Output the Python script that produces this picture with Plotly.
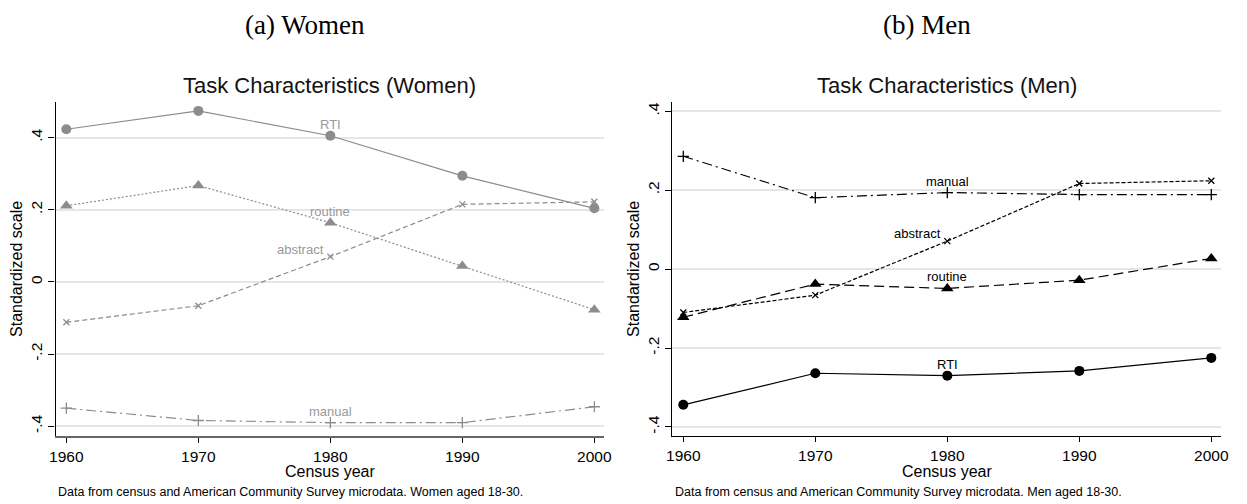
import plotly.graph_objects as go

# Reference image size; the page body has an 8px margin, so the figure is drawn
# 8px smaller and all reference pixel positions are shifted by -8.
REF_W, REF_H = 1247, 504
OFF = 8
W, H = REF_W - OFF, REF_H - OFF

years = [1960, 1970, 1980, 1990, 2000]

# Women
w_rti = [0.423, 0.474, 0.405, 0.294, 0.204]
w_routine = [0.211, 0.267, 0.164, 0.044, -0.077]
w_abstract = [-0.112, -0.066, 0.070, 0.215, 0.222]
w_manual = [-0.350, -0.384, -0.390, -0.390, -0.346]

# Men
m_rti = [-0.344, -0.264, -0.270, -0.258, -0.225]
m_routine = [-0.122, -0.038, -0.049, -0.028, 0.027]
m_abstract = [-0.110, -0.066, 0.071, 0.217, 0.224]
m_manual = [0.286, 0.181, 0.194, 0.189, 0.189]

ytick_vals = [-0.4, -0.2, 0, 0.2, 0.4]
ytick_text = ["-.4", "-.2", "0", ".2", ".4"]
xtick_vals = [1960, 1970, 1980, 1990, 2000]

FONT = "Liberation Sans, Arial, sans-serif"
SERIF = "Liberation Serif, Times New Roman, serif"

def px(x):
    return (x - OFF) / W

def py(y):
    return 1 - (y - OFF) / H

GRAY = "#8c8c8c"
GRAY_TXT = "#9a9a9a"
BLACK = "#000000"

fig = go.Figure()

def add_series(xa, ya, vals, color, dash, symbol, size, width=1.2, mline=None):
    marker = dict(symbol=symbol, size=size, color=color)
    if mline is not None:
        marker["line"] = dict(color=color, width=mline)
    fig.add_trace(go.Scatter(
        x=years, y=vals, xaxis=xa, yaxis=ya, mode="lines+markers",
        line=dict(color=color, width=width, dash=dash),
        marker=marker, showlegend=False, hoverinfo="skip"))

# Women panel (gray)
add_series("x", "y", w_rti, GRAY, "solid", "circle", 10)
add_series("x", "y", w_routine, GRAY, "2px,2px", "triangle-up", 11)
add_series("x", "y", w_abstract, GRAY, "5px,3px", "x-thin-open", 6, mline=1.3)
add_series("x", "y", w_manual, GRAY, "10px,4px,2px,4px", "cross-thin-open", 8, mline=1.3)

# Men panel (black)
add_series("x2", "y2", m_rti, BLACK, "solid", "circle", 10)
add_series("x2", "y2", m_routine, BLACK, "10px,5px", "triangle-up", 11)
add_series("x2", "y2", m_abstract, BLACK, "4px,2px", "x-thin-open", 6, mline=1.3)
add_series("x2", "y2", m_manual, BLACK, "10px,4px,2px,4px", "cross-thin-open", 8, mline=1.3)

x_dom1 = [px(50), px(605)]
x_dom2 = [px(674), px(1229)]
y_dom = [py(436), py(102)]

common_x = dict(range=[1959.18, 2000.75], tickmode="array", tickvals=xtick_vals,
                ticks="outside", ticklen=5, tickwidth=1, showgrid=False,
                zeroline=False, showline=True,
                tickfont=dict(family=FONT, size=15.5, color="#000"))
common_y = dict(tickmode="array", tickvals=ytick_vals, ticktext=ytick_text,
                ticks="outside", ticklen=6, tickwidth=1, tickangle=-90,
                showgrid=True, gridcolor="#e6e6e6", gridwidth=1.5,
                zeroline=False, showline=True, linecolor="#000", linewidth=1.2,
                tickcolor="#000",
                tickfont=dict(family=FONT, size=15.5, color="#000"))

fig.update_layout(
    width=W, height=H, autosize=False,
    margin=dict(l=0, r=0, t=0, b=0),
    paper_bgcolor="white", plot_bgcolor="white",
    xaxis=dict(domain=x_dom1, anchor="y", linecolor="#666", linewidth=2,
               tickcolor="#000", **common_x),
    yaxis=dict(domain=y_dom, anchor="x", range=[-0.427, 0.4986], **common_y),
    xaxis2=dict(domain=x_dom2, anchor="y2", linecolor="#000", linewidth=1.2,
                tickcolor="#000", **common_x),
    yaxis2=dict(domain=y_dom, anchor="x2", range=[-0.423, 0.4236], **common_y),
)

ann = []

# Series labels at the 1980 point
def lab(xref, yref, text, yval, color, pos="top"):
    if pos == "top":
        ann.append(dict(x=years[2], y=yval, xref=xref, yref=yref, text=text,
                        showarrow=False, xanchor="center", yanchor="bottom",
                        yshift=2, font=dict(family=FONT, size=13, color=color)))
    else:
        ann.append(dict(x=years[2], y=yval, xref=xref, yref=yref, text=text,
                        showarrow=False, xanchor="right", yanchor="bottom",
                        xshift=-4, yshift=-2, font=dict(family=FONT, size=13, color=color)))

lab("x", "y", "RTI", w_rti[2], GRAY_TXT)
lab("x", "y", "routine", w_routine[2], GRAY_TXT)
lab("x", "y", "abstract", w_abstract[2], GRAY_TXT, pos="left")
lab("x", "y", "manual", w_manual[2], GRAY_TXT)

lab("x2", "y2", "RTI", m_rti[2], BLACK)
lab("x2", "y2", "routine", m_routine[2], BLACK)
lab("x2", "y2", "abstract", m_abstract[2], BLACK, pos="left")
lab("x2", "y2", "manual", m_manual[2], BLACK)

def txt(x, y, text, size, family=FONT, color="#000", angle=0, xanchor="center"):
    ann.append(dict(x=px(x), y=py(y), xref="paper", yref="paper", text=text,
                    showarrow=False, xanchor=xanchor, yanchor="middle",
                    textangle=angle, font=dict(family=family, size=size, color=color)))

# Sub-figure captions
txt(302, 25, "(a) Women", 27, family=SERIF)
txt(931, 25, "(b) Men", 27, family=SERIF)

# Plot titles
txt(327.5, 86, "Task Characteristics (Women)", 22, color="#111")
txt(951.5, 86, "Task Characteristics (Men)", 22, color="#111")

# Axis titles
txt(10, 269, "Standardized scale", 16, angle=-90)
txt(634, 269, "Standardized scale", 16, angle=-90)
txt(327.5, 471, "Census year", 16)
txt(951.5, 471, "Census year", 16)

# Notes
txt(50, 492, "Data from census and American Community Survey microdata. Women aged 18-30.",
    12.5, xanchor="left")
txt(675, 492, "Data from census and American Community Survey microdata. Men aged 18-30.",
    12.5, xanchor="left")

fig.update_layout(annotations=ann)

fig.write_html("out.html")
